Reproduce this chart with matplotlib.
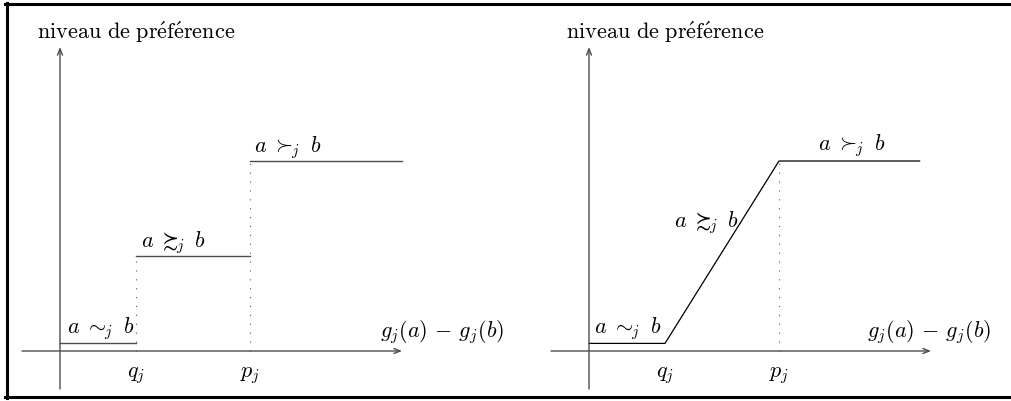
import matplotlib
matplotlib.use("Agg")
import matplotlib.pyplot as plt
from matplotlib.lines import Line2D

plt.rcParams['mathtext.fontset'] = 'cm'

W, H = 1011, 401
# Thresholds (in units along g_j(a)-g_j(b)) and preference levels
q_j = 1.0
p_j = 2.5
x_end_left = 4.5
x_end_right = 4.35
level_low = 0.1
level_mid = 1.25
level_high = 2.5
axis_x_range = (-0.5, 4.5)
axis_y_range = (-0.5, 4.0)

ylabel_text = r"$\mathrm{niveau\ de\ pr\'ef\'erence}$"
xlabel_text = r"$g_j(a)\,-\,g_j(b)$"
lbl_indiff = r"$a\;\sim\hspace{-0.3}{}_j\;\;b$"
lbl_weak = r"$a\;\succsim\hspace{-0.3}{}_j\;\;b$"
lbl_strict = r"$a\;\succ\hspace{-0.3}{}_j\;\;b$"
tick_labels = [r"$q_j$", r"$p_j$"]

UNIT = 76.0  # pixels per unit
ORIGIN_Y = 50.0  # pixels from bottom

fig = plt.figure(figsize=(W / 100, H / 100), dpi=100)

def make_axes(x0, x1, origin_x):
    ax = fig.add_axes([x0 / W, 0, (x1 - x0) / W, 1])
    ax.set_xlim((x0 - origin_x) / UNIT, (x1 - origin_x) / UNIT)
    ax.set_ylim(-ORIGIN_Y / UNIT, (H - ORIGIN_Y) / UNIT)
    ax.axis('off')
    return ax

axc = '0.3'
fs = 16

def draw_axes(ax):
    ax.annotate('', xy=(axis_x_range[1], 0), xytext=(axis_x_range[0], 0),
                arrowprops=dict(arrowstyle='->,head_length=0.45,head_width=0.18',
                                color=axc, lw=1.0, shrinkA=0, shrinkB=0))
    ax.annotate('', xy=(0, axis_y_range[1]), xytext=(0, axis_y_range[0]),
                arrowprops=dict(arrowstyle='->,head_length=0.45,head_width=0.18',
                                color=axc, lw=1.0, shrinkA=0, shrinkB=0))
    ax.text(1.0, 4.1, ylabel_text, ha='center', va='baseline', fontsize=fs)
    for xv, t in zip([q_j, p_j], tick_labels):
        ax.text(xv, -0.19, t, ha='center', va='top', fontsize=fs)

# Left panel: step function
axL = make_axes(0, 505, 60)
draw_axes(axL)
axL.plot([0, q_j], [level_low, level_low], color=axc, lw=1.0)
axL.plot([q_j, p_j], [level_mid, level_mid], color=axc, lw=1.0)
axL.plot([p_j, x_end_left], [level_high, level_high], color=axc, lw=1.0)
axL.plot([q_j, q_j], [0, level_mid], color='0.35', lw=0.8, ls=(0, (1, 7)))
axL.plot([p_j, p_j], [0, level_high], color='0.35', lw=0.8, ls=(0, (1, 7)))
axL.text(0.53, 0.237, lbl_indiff, ha='center', va='baseline', fontsize=fs)
axL.text(1.5, 1.37, lbl_weak, ha='center', va='baseline', fontsize=fs)
axL.text(2.99, 2.62, lbl_strict, ha='center', va='baseline', fontsize=fs)
axL.text(5.03, 0.184, xlabel_text, ha='center', va='baseline', fontsize=fs)

# Right panel: linear function
axR = make_axes(505, 1011, 589)
draw_axes(axR)
axR.plot([0, q_j, p_j, x_end_right], [level_low, level_low, level_high, level_high],
         color='black', lw=0.9)
axR.plot([p_j, p_j], [0, level_high], color='0.35', lw=0.8, ls=(0, (1, 7)))
axR.text(0.51, 0.237, lbl_indiff, ha='center', va='baseline', fontsize=fs)
axR.text(1.55, 1.63, lbl_weak, ha='center', va='baseline', fontsize=fs)
axR.text(3.46, 2.64, lbl_strict, ha='center', va='baseline', fontsize=fs)
axR.text(4.47, 0.184, xlabel_text, ha='center', va='baseline', fontsize=fs)

# Frame (left, top, bottom)
lwf = 2.2
fig.add_artist(Line2D([6.5 / W, 6.5 / W], [1 - 3 / H, 1 - 397.5 / H], color='black', lw=lwf,
                      transform=fig.transFigure))
fig.add_artist(Line2D([5 / W, 1.0], [1 - 4 / H, 1 - 4 / H], color='black', lw=lwf,
                      transform=fig.transFigure))
fig.add_artist(Line2D([5 / W, 1.0], [1 - 396.5 / H, 1 - 396.5 / H], color='black', lw=lwf,
                      transform=fig.transFigure))

fig.savefig('out.png', dpi=100)
